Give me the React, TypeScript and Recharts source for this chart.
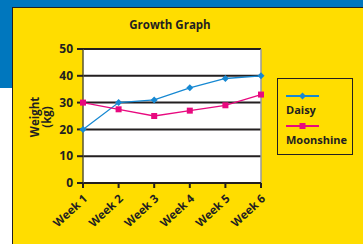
import { LineChart, Line, XAxis, YAxis, CartesianGrid, ReferenceLine, Label } from "recharts";

const weeks = ["Week 1", "Week 2", "Week 3", "Week 4", "Week 5", "Week 6"];
const daisy = [20, 30, 31, 35.5, 39, 40];
const moonshine = [30, 27.5, 25, 27, 29, 33];
const yTicks = [0, 10, 20, 30, 40, 50];

const BLUE = "#1688d2";
const PINK = "#e8097f";
const INK = "#231f20";
const FONT = "'Open Sans', sans-serif";

const data = weeks.map((week, i) => ({ week, Daisy: daisy[i], Moonshine: moonshine[i] }));

function DiamondDot(props: any) {
  const { cx, cy } = props;
  if (cx == null || cy == null) return null;
  const r = 3.5;
  return <polygon points={`${cx},${cy - r} ${cx + r},${cy} ${cx},${cy + r} ${cx - r},${cy}`} fill={BLUE} />;
}

function SquareDot(props: any) {
  const { cx, cy } = props;
  if (cx == null || cy == null) return null;
  return <rect x={cx - 3} y={cy - 3} width={6} height={6} fill={PINK} />;
}

function WeekTick(props: any) {
  const { x, y, payload } = props;
  return (
    <g transform={`translate(${x - 1},${y + 3})`}>
      <text
        textAnchor="end"
        transform="rotate(-43)"
        dy={9}
        fontSize={11.5}
        fontWeight={700}
        fill={INK}
        fontFamily={FONT}
      >
        {payload.value}
      </text>
    </g>
  );
}

function WeightLabel() {
  return (
    <text transform="translate(41,117) rotate(-90)" textAnchor="middle" fontSize={11.5} fontWeight={700} fill={INK} fontFamily={FONT}>
      <tspan x={0} dy={-2}>Weight</tspan>
      <tspan x={0} dy={12}>(kg)</tspan>
    </text>
  );
}

function LegendBox() {
  const items = [
    { name: "Daisy", color: BLUE, square: false },
    { name: "Moonshine", color: PINK, square: true },
  ];
  return (
    <div style={{ width: 76, height: 77, border: `1px solid ${INK}`, boxSizing: "border-box", position: "relative", fontFamily: FONT }}>
      {items.map((it, i) => (
        <div key={it.name} style={{ position: "absolute", left: 8, top: 12 + i * 30 }}>
          <svg width={34} height={10} style={{ display: "block" }}>
            <line x1={0} y1={5} x2={33} y2={5} stroke={it.color} strokeWidth={2} />
            {it.square ? (
              <rect x={13.5} y={2} width={6} height={6} fill={it.color} />
            ) : (
              <polygon points="16.5,1.5 20,5 16.5,8.5 13,5" fill={it.color} />
            )}
          </svg>
          <div style={{ fontSize: 11, fontWeight: 700, color: INK, marginTop: 2, lineHeight: "14px" }}>{it.name}</div>
        </div>
      ))}
    </div>
  );
}

export default function App() {
  return (
    <div style={{ position: "fixed", left: 0, top: 0, width: 363, height: 244, background: "#fff", overflow: "hidden" }}>
      <div style={{ position: "absolute", left: 0, top: 0, width: 363, height: 8, background: "#0077be" }} />
      <div style={{ position: "absolute", left: 0, top: 0, width: 13, height: 88, background: "#0077be" }} />
      <div
        style={{
          position: "absolute",
          left: 12,
          top: 7,
          width: 351,
          height: 237,
          background: "#ffdd00",
          borderLeft: `1px solid ${INK}`,
          borderTop: `1px solid ${INK}`,
          boxSizing: "border-box",
        }}
      />
      <div
        style={{
          position: "absolute",
          left: 0,
          top: 17,
          width: 340,
          textAlign: "center",
          fontFamily: FONT,
          fontWeight: 700,
          fontSize: 11.5,
          color: INK,
        }}
      >
        Growth Graph
      </div>
      <div style={{ position: "absolute", left: 0, top: 0 }}>
        <LineChart width={363} height={244} data={data} margin={{ top: 49, right: 102, left: 43, bottom: 11 }}>
          <CartesianGrid fill="#ffffff" vertical={false} stroke={INK} strokeWidth={2} />
          <XAxis
            dataKey="week"
            height={50}
            axisLine={{ stroke: INK, strokeWidth: 2 }}
            tickLine={{ stroke: INK, strokeWidth: 2 }}
            tickSize={5}
            tick={<WeekTick />}
            interval={0}
          />
          <YAxis
            width={40}
            domain={[0, 50]}
            ticks={yTicks}
            interval={0}
            axisLine={{ stroke: "#5a5630", strokeWidth: 1.5 }}
            tickLine={{ stroke: INK, strokeWidth: 2 }}
            tickSize={6}
            tickMargin={4}
            tick={{ fontSize: 12, fontWeight: 700, fill: INK, fontFamily: FONT }}
          >
            <Label content={<WeightLabel />} />
          </YAxis>
          <ReferenceLine x="Week 6" stroke="#9a9a9a" strokeWidth={1.5} />
          <Line dataKey="Daisy" stroke={BLUE} strokeWidth={1.3} dot={<DiamondDot />} isAnimationActive={false} />
          <Line dataKey="Moonshine" stroke={PINK} strokeWidth={1.3} dot={<SquareDot />} isAnimationActive={false} />
        </LineChart>
      </div>
      <div style={{ position: "absolute", left: 277, top: 78 }}>
        <LegendBox />
      </div>
    </div>
  );
}
